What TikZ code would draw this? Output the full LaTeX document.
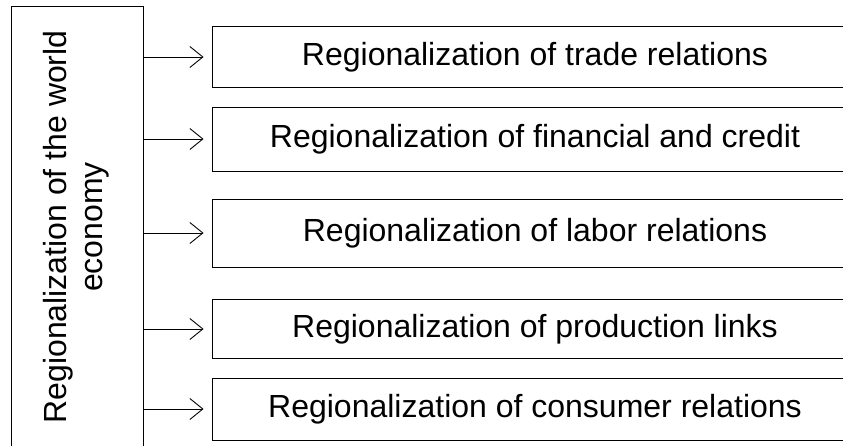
\documentclass[tikz,border=0pt]{standalone}
\usepackage{fontspec}
\setmainfont{Liberation Sans}
\usetikzlibrary{arrows.meta}

\begin{document}
\begin{tikzpicture}[>={Straight Barb[length=13pt,width=21pt]}, x=1pt, y=-1pt, line width=0.9pt,
  regbox/.style={draw, rectangle, minimum width=646pt, inner sep=0pt, font=\fontsize{32}{38}\selectfont}]
\useasboundingbox (0,0) rectangle (843,446);
\clip (0,0) rectangle (843,446);
\node[draw, rectangle, minimum width=132pt, minimum height=442pt] (econ) at (77,227) {\rotatebox{90}{\fontsize{32}{36}\selectfont\begin{tabular}{@{}c@{}}Regionalization of the world\\economy\end{tabular}}};
\node[regbox, minimum height=61pt] (trade) at (535,57) {Regionalization of trade relations};
\node[regbox, minimum height=64pt] (fin) at (535,139) {Regionalization of financial and credit};
\node[regbox, minimum height=68pt] (labor) at (535,233) {Regionalization of labor relations};
\node[regbox, minimum height=59pt] (prod) at (535,329) {Regionalization of production links};
\node[regbox, minimum height=62pt] (cons) at (535,409) {Regionalization of consumer relations};
\foreach \b in {trade,fin,labor,prod,cons}
  \draw[->, shorten >=8pt] (econ.east |- \b.west) -- (\b.west);
\end{tikzpicture}
\end{document}
